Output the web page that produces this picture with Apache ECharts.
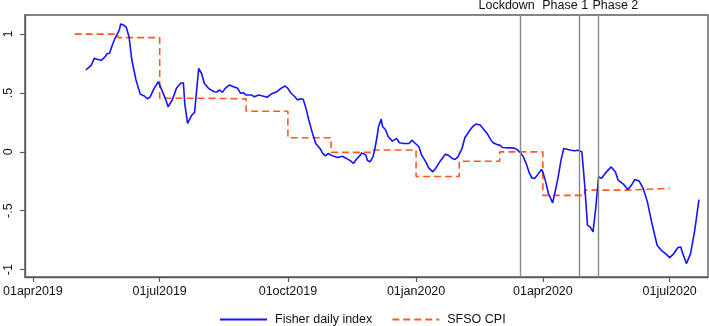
<!DOCTYPE html>
<html>
<head>
<meta charset="utf-8">
<script src="https://cdn.jsdelivr.net/npm/echarts@6/dist/echarts.min.js"></script>
<style>
  html, body { margin: 0; padding: 0; background: #fff; }
  #chart { width: 709px; height: 326px; }
</style>
</head>
<body>
<div id="chart"></div>
<script>
// Fisher daily index, [date, value]
const fisherIndex = [
  ['2019-05-09', 0.695], ['2019-05-13', 0.737], ['2019-05-15', 0.794], ['2019-05-17', 0.786],
  ['2019-05-20', 0.777], ['2019-05-23', 0.808], ['2019-05-24', 0.831], ['2019-05-26', 0.837],
  ['2019-05-28', 0.907], ['2019-05-30', 0.964], ['2019-06-02', 1.035], ['2019-06-03', 1.086],
  ['2019-06-05', 1.077], ['2019-06-07', 1.058], ['2019-06-09', 0.978], ['2019-06-11', 0.780],
  ['2019-06-14', 0.610], ['2019-06-17', 0.490], ['2019-06-20', 0.474], ['2019-06-22', 0.451],
  ['2019-06-24', 0.463], ['2019-06-27', 0.539], ['2019-06-30', 0.595], ['2019-07-02', 0.539],
  ['2019-07-05', 0.454], ['2019-07-07', 0.383], ['2019-07-10', 0.440], ['2019-07-13', 0.539],
  ['2019-07-16', 0.582], ['2019-07-18', 0.587], ['2019-07-19', 0.410], ['2019-07-21', 0.241],
  ['2019-07-24', 0.312], ['2019-07-26', 0.332], ['2019-07-29', 0.709], ['2019-07-31', 0.667],
  ['2019-08-02', 0.582], ['2019-08-05', 0.539], ['2019-08-06', 0.548], ['2019-08-09', 0.510],
  ['2019-08-11', 0.508], ['2019-08-13', 0.525], ['2019-08-15', 0.505], ['2019-08-17', 0.539],
  ['2019-08-20', 0.567], ['2019-08-23', 0.553], ['2019-08-26', 0.539], ['2019-08-28', 0.497],
  ['2019-08-30', 0.502], ['2019-08-31', 0.510], ['2019-09-01', 0.482], ['2019-09-03', 0.482],
  ['2019-09-05', 0.482], ['2019-09-07', 0.468], ['2019-09-08', 0.474], ['2019-09-10', 0.482],
  ['2019-09-13', 0.474], ['2019-09-16', 0.463], ['2019-09-19', 0.491], ['2019-09-23', 0.510],
  ['2019-09-26', 0.539], ['2019-09-29', 0.559], ['2019-10-01', 0.539], ['2019-10-03', 0.502],
  ['2019-10-06', 0.468], ['2019-10-08', 0.440], ['2019-10-10', 0.451], ['2019-10-12', 0.446],
  ['2019-10-14', 0.369], ['2019-10-16', 0.270], ['2019-10-19', 0.142], ['2019-10-21', 0.071],
  ['2019-10-24', 0.029], ['2019-10-26', -0.014], ['2019-10-28', -0.034], ['2019-10-30', -0.014],
  ['2019-11-01', -0.028], ['2019-11-03', -0.037], ['2019-11-06', -0.048], ['2019-11-09', -0.037],
  ['2019-11-12', -0.056], ['2019-11-15', -0.077], ['2019-11-17', -0.099], ['2019-11-19', -0.065],
  ['2019-11-22', -0.028], ['2019-11-23', -0.009], ['2019-11-26', -0.028], ['2019-11-27', -0.071],
  ['2019-11-29', -0.085], ['2019-12-01', -0.043], ['2019-12-02', 0.000], ['2019-12-04', 0.128],
  ['2019-12-05', 0.213], ['2019-12-07', 0.278], ['2019-12-08', 0.213], ['2019-12-10', 0.190],
  ['2019-12-11', 0.190], ['2019-12-12', 0.128], ['2019-12-15', 0.091], ['2019-12-16', 0.099],
  ['2019-12-18', 0.114], ['2019-12-20', 0.077], ['2019-12-23', 0.071], ['2019-12-27', 0.071],
  ['2019-12-29', 0.099], ['2019-12-31', 0.077], ['2020-01-03', 0.043], ['2020-01-05', -0.028],
  ['2020-01-08', -0.085], ['2020-01-10', -0.136], ['2020-01-13', -0.170], ['2020-01-15', -0.141],
  ['2020-01-18', -0.085], ['2020-01-22', -0.020], ['2020-01-24', -0.028], ['2020-01-27', -0.056],
  ['2020-01-29', -0.065], ['2020-01-31', -0.043], ['2020-02-03', 0.030], ['2020-02-05', 0.120],
  ['2020-02-09', 0.190], ['2020-02-11', 0.219], ['2020-02-13', 0.236], ['2020-02-16', 0.227],
  ['2020-02-18', 0.199], ['2020-02-21', 0.156], ['2020-02-23', 0.114], ['2020-02-25', 0.080],
  ['2020-02-28', 0.063], ['2020-03-01', 0.057], ['2020-03-03', 0.037], ['2020-03-06', 0.034],
  ['2020-03-09', 0.034], ['2020-03-12', 0.029], ['2020-03-14', 0.014], ['2020-03-16', -0.009],
  ['2020-03-18', -0.043], ['2020-03-20', -0.099], ['2020-03-22', -0.170], ['2020-03-24', -0.221],
  ['2020-03-26', -0.226], ['2020-03-28', -0.198], ['2020-03-31', -0.150], ['2020-04-01', -0.170],
  ['2020-04-03', -0.255], ['2020-04-05', -0.354], ['2020-04-08', -0.434], ['2020-04-09', -0.383],
  ['2020-04-12', -0.213], ['2020-04-14', -0.071], ['2020-04-16', 0.029], ['2020-04-19', 0.020],
  ['2020-04-21', 0.014], ['2020-04-24', 0.009], ['2020-04-26', 0.014], ['2020-04-29', 0.000],
  ['2020-05-01', -0.280], ['2020-05-03', -0.623], ['2020-05-05', -0.640], ['2020-05-07', -0.680],
  ['2020-05-09', -0.470], ['2020-05-11', -0.210], ['2020-05-13', -0.226], ['2020-05-16', -0.179],
  ['2020-05-20', -0.128], ['2020-05-23', -0.170], ['2020-05-25', -0.241], ['2020-05-29', -0.277],
  ['2020-06-01', -0.320], ['2020-06-04', -0.275], ['2020-06-06', -0.235], ['2020-06-09', -0.247],
  ['2020-06-12', -0.311], ['2020-06-15', -0.425], ['2020-06-18', -0.595], ['2020-06-22', -0.793],
  ['2020-06-25', -0.836], ['2020-06-28', -0.864], ['2020-07-01', -0.898], ['2020-07-04', -0.864],
  ['2020-07-07', -0.813], ['2020-07-09', -0.808], ['2020-07-10', -0.850], ['2020-07-13', -0.949],
  ['2020-07-16', -0.864], ['2020-07-19', -0.666], ['2020-07-22', -0.405]
];

// SFSO CPI, monthly (held until next month)
const cpiMonths = ['2019-05-01', '2019-06-01', '2019-07-01', '2019-08-01', '2019-09-01',
  '2019-10-01', '2019-11-01', '2019-12-01', '2020-01-01', '2020-02-01', '2020-03-01',
  '2020-04-01', '2020-05-01', '2020-06-01', '2020-07-01'];
const cpiValues = [1.00, 0.97, 0.455, 0.45, 0.345, 0.12, -0.005, 0.015, -0.21, -0.08, 0.0,
  -0.37, -0.325, -0.31, -0.31];

// policy events
const eventDates = ['2020-03-16', '2020-04-27', '2020-05-11'];
const eventLabels = ['Lockdown', 'Phase 1', 'Phase 2'];
const eventLabelAt = ['2020-03-06', '2020-04-17', '2020-05-23'];

const xTicks = ['2019-04-01', '2019-07-01', '2019-10-01', '2020-01-01', '2020-04-01', '2020-07-01'];
const yTicks = [-1, -0.5, 0, 0.5, 1];
const xRange = ['2019-03-26T07:00:00', '2020-07-28T12:00:00'];
const yRange = [-1.063, 1.162];

const months = ['jan', 'feb', 'mar', 'apr', 'may', 'jun', 'jul', 'aug', 'sep', 'oct', 'nov', 'dec'];
const ts = s => +new Date(s.length > 10 ? s : s + 'T00:00:00');
const stataDate = v => {
  const d = new Date(v);
  return String(d.getDate()).padStart(2, '0') + months[d.getMonth()] + d.getFullYear();
};

const font = '"Liberation Sans", Arial, sans-serif';
const frame = '#5c5c5c';

const chart = echarts.init(document.getElementById('chart'));

const option = {
  animation: false,
  grid: { left: 22, right: 1, top: 15, bottom: 49, show: true, borderColor: frame, borderWidth: 1.4 },
  xAxis: {
    // dates as plain timestamps on a value axis
    type: 'value',
    min: ts(xRange[0]),
    max: ts(xRange[1]),
    splitLine: { show: false },
    axisLine: { onZero: false, lineStyle: { color: frame, width: 1.4 } },
    axisTick: { customValues: xTicks.map(ts), length: 5, lineStyle: { color: frame, width: 1.2 } },
    axisLabel: {
      customValues: xTicks.map(ts),
      formatter: v => stataDate(v),
      color: '#111', fontFamily: font, fontSize: 12.5, margin: 8
    }
  },
  yAxis: {
    type: 'value',
    min: yRange[0],
    max: yRange[1],
    splitLine: { show: false },
    axisLine: { show: true, onZero: false, lineStyle: { color: frame, width: 1.4 } },
    axisTick: { show: true, customValues: yTicks, length: 5, lineStyle: { color: frame, width: 1.2 } },
    axisLabel: {
      customValues: yTicks,
      rotate: 90,
      formatter: v => (v === 0 ? '0' : String(v).replace('0.', '.')),
      color: '#111', fontFamily: font, fontSize: 12.5, margin: 10
    }
  },
  legend: {
    left: 219,
    top: 313,
    padding: 0,
    itemWidth: 47,
    itemHeight: 14,
    itemGap: 19,
    itemStyle: { opacity: 0 },
    textStyle: { color: '#111', fontFamily: font, fontSize: 12.5, padding: [0, 0, 0, 3] },
    data: ['Fisher daily index', 'SFSO CPI']
  },
  series: [
    {
      name: 'Fisher daily index',
      type: 'line',
      symbol: 'none',
      data: fisherIndex.map(p => [ts(p[0]), p[1]]),
      lineStyle: { color: '#1414ff', width: 1.6 },
      itemStyle: { color: '#1414ff' },
      z: 3,
      markLine: {
        silent: true,
        symbol: ['none', 'none'],
        label: { show: false },
        lineStyle: { color: '#8a8a8a', width: 1.4, type: 'solid' },
        data: eventDates.map(d => ({ xAxis: ts(d) }))
      }
    },
    {
      name: 'SFSO CPI',
      type: 'line',
      step: 'end',
      symbol: 'none',
      data: cpiMonths.map((d, i) => [ts(d), cpiValues[i]]),
      lineStyle: { color: '#ff5a22', width: 1.6, type: [7, 4] },
      itemStyle: { color: '#ff5a22' },
      z: 2
    }
  ]
};

chart.setOption(option);

// event labels above the plot region
chart.setOption({
  graphic: eventLabels.map((txt, i) => ({
    type: 'text',
    x: chart.convertToPixel({ xAxisIndex: 0 }, ts(eventLabelAt[i])),
    y: 6,
    style: { text: txt, fill: '#111', font: '12.5px ' + font, align: 'center', verticalAlign: 'middle' }
  }))
});
</script>
</body>
</html>
